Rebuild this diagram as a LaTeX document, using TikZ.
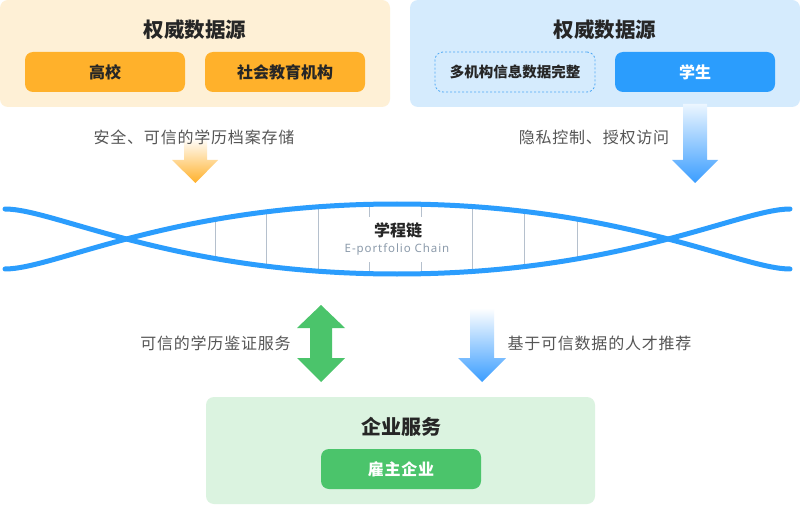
\documentclass[tikz,border=0pt]{standalone}
\usepackage{fontspec}
\setmainfont{Noto Sans CJK SC}
\newfontfamily\latinfont[LetterSpace=8]{Noto Sans}
\definecolor{orabg}{HTML}{FEF0D6}
\definecolor{orabtn}{HTML}{FFB12B}
\definecolor{bluebg}{HTML}{D5EBFD}
\definecolor{bluebtn}{HTML}{2B9DFD}
\definecolor{helixc}{HTML}{2B9DFD}
\definecolor{greenbg}{HTML}{DBF3E0}
\definecolor{greenbtn}{HTML}{4BC46B}
\definecolor{titlec}{HTML}{262626}
\definecolor{lblc}{HTML}{555555}
\definecolor{rungc}{HTML}{B5C0CD}
\definecolor{subc}{HTML}{8C9BAB}
\definecolor{dashc}{HTML}{4DA8F5}
\begin{document}
\begin{tikzpicture}[x=1pt,y=-1pt,
  panel/.style={draw=none, rounded corners=8pt, minimum height=107pt, minimum width=390pt, inner sep=0pt},
  btn/.style={rounded corners=8pt, minimum width=160pt, minimum height=40pt, inner sep=0pt, font=\fontsize{16}{19}\selectfont\bfseries},
  title/.style={font=\fontsize{20.5}{24}\selectfont\bfseries, text=titlec, inner sep=0pt},
  lbl/.style={font=\fontsize{16}{19}\selectfont\addfontfeature{LetterSpace=5}, text=lblc, inner sep=0pt},
  rung/.style={draw=rungc, line width=1pt},
  helix/.style={draw=helixc, line width=5pt, line cap=round},
]
\useasboundingbox (0,0) rectangle (800,505);
\fill[white] (0,0) rectangle (800,505);

% top panels
\node[panel, fill=orabg] (lpanel) at (195,53.5) {};
\node[panel, fill=bluebg] (rpanel) at (605,53.5) {};
\node[title] (ltitle) at (195,30) {权威数据源};
\node[title] (rtitle) at (605,30) {权威数据源};
\node[btn, fill=orabtn, text=titlec] (gaoxiao) at (105,72) {高校};
\node[btn, fill=orabtn, text=titlec] (shehui) at (285,72) {社会教育机构};
\node[btn, fill=bluebg, draw=dashc, line width=0.8pt, dash pattern=on 2pt off 2pt, text=titlec, font=\fontsize{14.5}{17}\selectfont\bfseries] (duo) at (515,72) {多机构信息数据完整};
\node[btn, fill=bluebtn, text=white] (xuesheng) at (695,72) {学生};

% gradient arrows (top)
\shade[top color=white, bottom color=orabtn]
  (184,138) -- (207,138) -- (207,160) -- (218,160) -- (195.5,183) -- (172,160) -- (184,160) -- cycle;
\shade[top color={rgb,255:red,236;green,246;blue,255}, bottom color={rgb,255:red,58;green,157;blue,255}]
  (683,104) -- (707,104) -- (707,160) -- (718,160) -- (695,183) -- (672,160) -- (683,160) -- cycle;

\node[lbl] (lbl1) at (194,137) {安全、可信的学历档案存储};
\node[lbl] (lbl2) at (594,137) {隐私控制、授权访问};

% helix rungs
\begin{scope}
  \clip (5,269) .. controls (55,269) and (174,204) .. (397,204) .. controls (620,204) and (740,269) .. (790,269) -- (790,300) -- (5,300) -- cycle;
  \clip (5,209) .. controls (55,209) and (174,274) .. (397,274) .. controls (620,274) and (740,209) .. (790,209) -- (790,180) -- (5,180) -- cycle;
  \foreach \xx in {215,266,318,472,524,577} { \draw[rung] (\xx,190) -- (\xx,290); }
  \foreach \xx in {369,421} { \draw[rung] (\xx,190) -- (\xx,217); \draw[rung] (\xx,262) -- (\xx,290); }
\end{scope}

% helix strands
\draw[helix] (5,209) .. controls (55,209) and (174,274) .. (397,274) .. controls (620,274) and (740,209) .. (790,209);
\draw[helix] (5,269) .. controls (55,269) and (174,204) .. (397,204) .. controls (620,204) and (740,269) .. (790,269);

\node[font=\fontsize{16}{19}\selectfont\bfseries, text=titlec, inner sep=0pt] (chain) at (398,230) {学程链};
\node[font=\latinfont\fontsize{11.5}{14}\selectfont, text=subc, inner sep=0pt] (chainsub) at (397,249) {E-portfolio Chain};

% bottom arrows
\fill[greenbtn] (321,305) -- (345,328) -- (332,328) -- (332,358) -- (345,358) -- (321,382) -- (297,358) -- (310,358) -- (310,328) -- (297,328) -- cycle;
\shade[top color=white, bottom color={rgb,255:red,58;green,157;blue,255}]
  (470,308) -- (494,308) -- (494,358) -- (506,358) -- (482,382) -- (458,358) -- (470,358) -- cycle;

\node[lbl] (lbl3) at (215.5,343) {可信的学历鉴证服务};
\node[lbl] (lbl4) at (599.5,343) {基于可信数据的人才推荐};

% bottom panel
\node[panel, fill=greenbg, minimum width=389pt] (gpanel) at (400.5,450.5) {};
\node[title, font=\fontsize{20}{24}\selectfont\bfseries] (gtitle) at (401,427) {企业服务};
\node[btn, fill=greenbtn, text=white, font=\fontsize{16}{19}\selectfont\bfseries\addfontfeature{LetterSpace=5}] (guzhu) at (401,469) {雇主企业};
\end{tikzpicture}
\end{document}
